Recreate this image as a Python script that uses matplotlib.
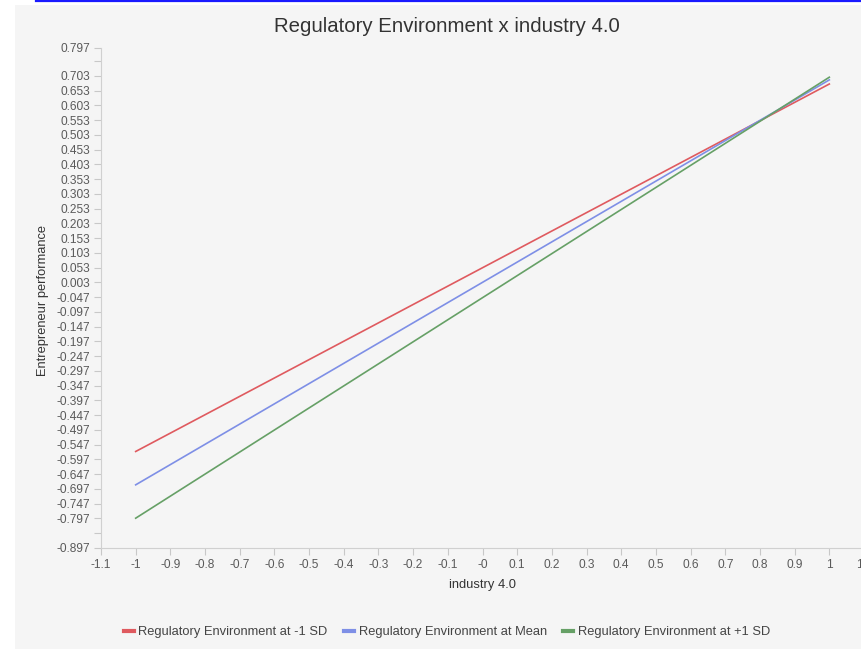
# Regulatory Environment x industry 4.0 : simple slopes plot

import numpy as np
import matplotlib.pyplot as plt
from matplotlib.lines import Line2D
from matplotlib.patches import Rectangle

plt.rcParams['font.family'] = ['Liberation Sans', 'DejaVu Sans']

# simple slopes at x = -1 and x = 1
x_ends = [-1, 1]
y_low = [-0.570, 0.675]    # -1 SD
y_mean = [-0.683, 0.689]   # Mean
y_high = [-0.796, 0.698]   # +1 SD

labels = ['Regulatory Environment at -1 SD',
          'Regulatory Environment at Mean',
          'Regulatory Environment at +1 SD']
colors = ['#df5a5f', '#7e8fe6', '#66a066']

x_ticks = [round(-1.1 + 0.1 * i, 1) for i in range(23)]
x_ticklabels = ['-1.1', '-1', '-0.9', '-0.8', '-0.7', '-0.6', '-0.5', '-0.4', '-0.3',
                '-0.2', '-0.1', '-0', '0.1', '0.2', '0.3', '0.4', '0.5', '0.6', '0.7',
                '0.8', '0.9', '1', '1.1']

y_min, y_max = -0.897, 0.797
y_ticks = [round(-0.897 + 0.05 * i, 3) for i in range(34)] + [0.797]
hidden = [-0.847, 0.753]
y_ticklabels = ['' if t in hidden else '{0:.3f}'.format(t) for t in y_ticks]

bg = '#f5f5f5'
fig = plt.figure(figsize=(8.61, 6.49), dpi=100)
fig.patches.append(Rectangle((15/861, 0), 1, 644/649, transform=fig.transFigure,
                             facecolor=bg, edgecolor='none', zorder=-10))
fig.add_artist(Line2D([36/861, 1], [648/649, 648/649], color='#1a1aff', lw=1.6,
                      transform=fig.transFigure))

ax = fig.add_axes([101/861, 101/649, 763/861, 500/649])
ax.set_facecolor('none')

for ys, lab, c in zip([y_low, y_mean, y_high], labels, colors):
    ax.plot(x_ends, ys, '-', color=c, lw=1.2, label=lab)

ax.set_xlim(-1.1, 1.1)
ax.set_ylim(y_min, y_max)
ax.set_xticks(x_ticks)
ax.set_xticklabels(x_ticklabels)
ax.set_yticks(y_ticks)
ax.set_yticklabels(y_ticklabels)
ax.tick_params(axis='both', colors='#c8c8c8', labelcolor='#5a5a5a', labelsize=8.6,
               length=5, width=0.8, pad=3)
for s in ['top', 'right']:
    ax.spines[s].set_visible(False)
for s in ['left', 'bottom']:
    ax.spines[s].set_color('#d0d0d0')
    ax.spines[s].set_linewidth(0.8)

ax.set_xlabel('industry 4.0', fontsize=9.3, color='#333333', labelpad=6)
fig.text(43/861, 1 - 301/649, 'Entrepreneur performance', rotation=90,
         ha='center', va='center', fontsize=9.3, color='#333333')
fig.text(447/861, 1 - 27/649, 'Regulatory Environment x industry 4.0',
         ha='center', va='center', fontsize=14.7, color='#333333')

fig.legend(*ax.get_legend_handles_labels(), loc='center', ncol=3,
           bbox_to_anchor=(447/861, 1 - 632/649), frameon=False, fontsize=9.3,
           handlelength=0.75, handletextpad=0.35, columnspacing=1.3,
           labelcolor='#444444')
for h in fig.legends[0].legend_handles:
    h.set_linewidth(3)

fig.savefig('out.png', dpi=100)
